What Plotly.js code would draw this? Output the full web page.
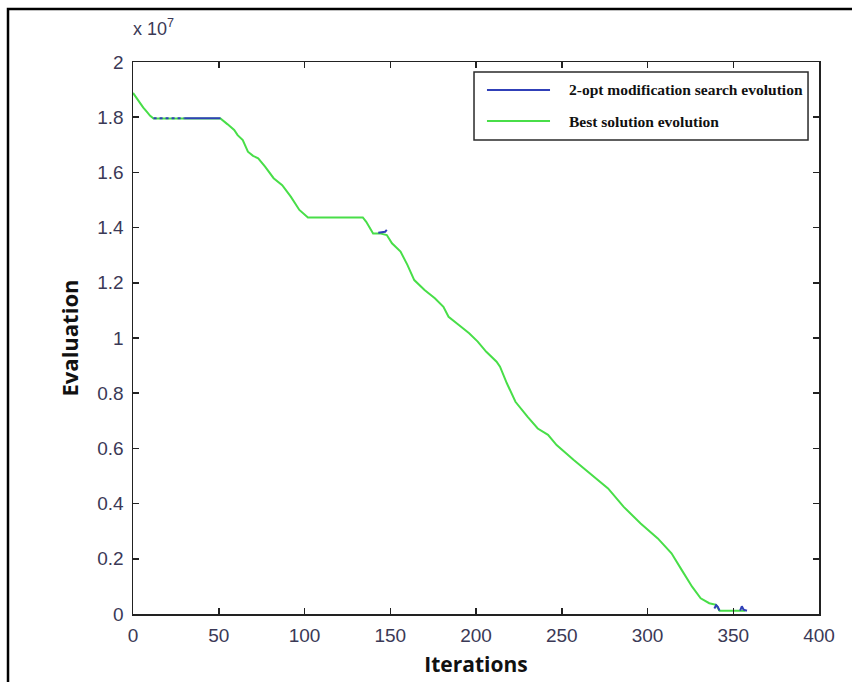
<!DOCTYPE html>
<html>
<head>
<meta charset="utf-8">
<script src="https://cdn.plot.ly/plotly-3.0.1.min.js"></script>
<style>
  html, body { margin: 0; padding: 0; background: #fff; }
  #chart { width: 852px; height: 682px; }
</style>
</head>
<body>
<div id="chart"></div>
<script>
// Evaluation values are in units of 10^7
const bestIter = [0, 2, 4, 6, 8, 10, 12, 51, 55, 59, 61, 64, 67, 70, 73, 77, 82, 87, 92, 97, 102, 134, 136, 140, 144, 148, 151, 156, 160, 164, 170, 176, 181, 184, 190, 196, 201, 206, 212, 214, 218, 223, 230, 236, 242, 247, 257, 269, 277, 286, 296, 306, 314, 320, 326, 331, 336, 340, 342, 357];
const bestEval = [1.888, 1.870, 1.850, 1.835, 1.820, 1.805, 1.795, 1.795, 1.775, 1.754, 1.735, 1.717, 1.675, 1.660, 1.651, 1.621, 1.579, 1.554, 1.512, 1.464, 1.437, 1.437, 1.421, 1.379, 1.379, 1.373, 1.343, 1.313, 1.265, 1.210, 1.174, 1.144, 1.113, 1.077, 1.047, 1.017, 0.987, 0.950, 0.914, 0.896, 0.836, 0.769, 0.715, 0.672, 0.649, 0.612, 0.558, 0.497, 0.455, 0.389, 0.328, 0.274, 0.220, 0.159, 0.099, 0.057, 0.039, 0.033, 0.012, 0.012];

const searchIter = [30, 51, null, 143, 147, 148, null, 339, 340, 341, 342, null, 354, 355, 356, 358];
const searchEval = [1.796, 1.796, null, 1.381, 1.385, 1.392, null, 0.020, 0.032, 0.026, 0.012, null, 0.012, 0.028, 0.016, 0.012];

const searchDotIter = [12, 30];
const searchDotEval = [1.796, 1.796];

const xTickVals = [0, 50, 100, 150, 200, 250, 300, 350, 400];
const yTickVals = [0, 0.2, 0.4, 0.6, 0.8, 1, 1.2, 1.4, 1.6, 1.8, 2];

const seriesNames = ['2-opt modification search evolution', 'Best solution evolution'];
const xTitle = 'Iterations';
const yTitle = 'Evaluation';
const yExponentLabel = 'x 10<sup>7</sup>';

const blue = '#3040b8';
const green = '#48de48';
const legendColors = [blue, green];

const traces = [
  {
    x: bestIter, y: bestEval, mode: 'lines', name: seriesNames[1],
    line: { color: green, width: 2 }, showlegend: false
  },
  {
    x: searchIter, y: searchEval, mode: 'lines', name: seriesNames[0],
    line: { color: blue, width: 2 }, connectgaps: false, showlegend: false
  },
  {
    x: searchDotIter, y: searchDotEval, mode: 'lines', name: seriesNames[0], showlegend: false,
    line: { color: blue, width: 2, dash: 'dot' }
  }
];

const axisCommon = {
  showgrid: false, zeroline: false, showline: true, linecolor: '#222', linewidth: 1.5,
  mirror: 'ticks', ticks: 'inside', ticklen: 6, tickwidth: 1.5, tickcolor: '#222',
  tickfont: { family: 'Liberation Sans, Arial, sans-serif', size: 19, color: '#3b3956' }
};

// legend box geometry (paper coordinates)
const legBox = { x0: 0.4971, x1: 0.9840, y0: 0.8587, y1: 0.9819 };
const legRowsY = [0.9493, 0.8931];
const legLineX = [0.5160, 0.6079];
const legTextX = 0.6327;

const shapes = [{
  type: 'rect', xref: 'paper', yref: 'paper',
  x0: -0.1822, x1: 1.06, y0: -0.15, y1: 1.0960,
  line: { color: '#000', width: 2.5 }, fillcolor: 'rgba(0,0,0,0)', layer: 'above'
}, {
  type: 'rect', xref: 'paper', yref: 'paper',
  x0: legBox.x0, x1: legBox.x1, y0: legBox.y0, y1: legBox.y1,
  line: { color: '#2a2a2a', width: 1.5 }, fillcolor: '#fff', layer: 'above'
}];
const annotations = [{
  xref: 'paper', yref: 'paper', x: -0.003, y: 1.063, xanchor: 'left', yanchor: 'middle',
  text: yExponentLabel, showarrow: false,
  font: { family: 'Liberation Sans, Arial, sans-serif', size: 18, color: '#3b3956' }
}];
seriesNames.forEach((nm, i) => {
  shapes.push({
    type: 'line', xref: 'paper', yref: 'paper',
    x0: legLineX[0], x1: legLineX[1], y0: legRowsY[i], y1: legRowsY[i],
    line: { color: legendColors[i], width: 2 }, layer: 'above'
  });
  annotations.push({
    xref: 'paper', yref: 'paper', x: legTextX, y: legRowsY[i], xanchor: 'left', yanchor: 'middle',
    text: '<b>' + nm + '</b>', showarrow: false,
    font: { family: 'Liberation Serif, Times New Roman, serif', size: 15.5, color: '#111' }
  });
});

const layout = {
  width: 852, height: 682,
  margin: { l: 133, r: 33, t: 62, b: 68 },
  paper_bgcolor: '#fff', plot_bgcolor: '#fff',
  showlegend: false,
  xaxis: Object.assign({}, axisCommon, {
    range: [0, 400], tickvals: xTickVals, ticklabelstandoff: 4,
    title: { text: xTitle, font: { family: 'Open Sans, sans-serif', size: 21, color: '#111', weight: 'bold' }, standoff: 12 }
  }),
  yaxis: Object.assign({}, axisCommon, {
    range: [0, 2], tickvals: yTickVals, ticklabelstandoff: 4,
    title: { text: yTitle, font: { family: 'Open Sans, sans-serif', size: 22, color: '#111', weight: 'bold' }, standoff: 12 }
  }),
  annotations: annotations,
  shapes: shapes
};

Plotly.newPlot('chart', traces, layout, { displayModeBar: false, staticPlot: true });
</script>
</body>
</html>
